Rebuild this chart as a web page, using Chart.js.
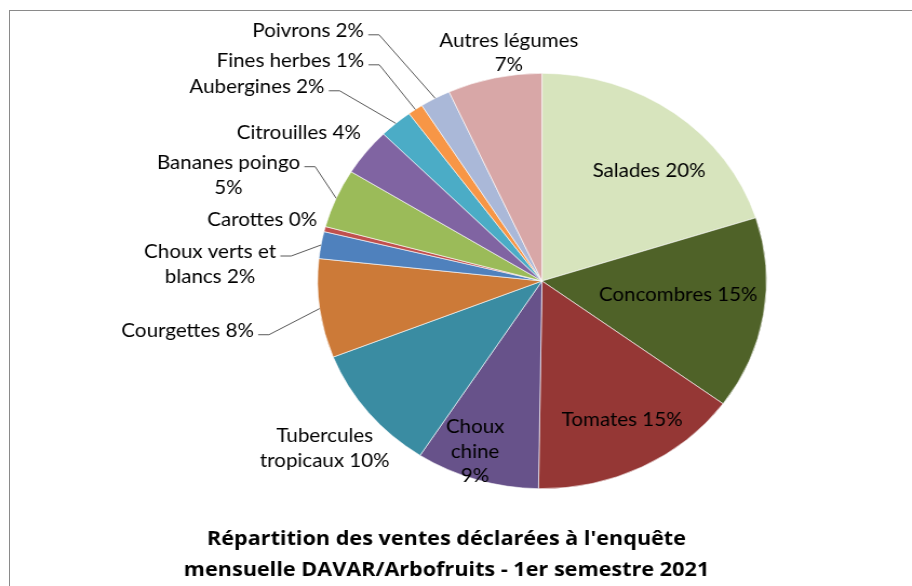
<!DOCTYPE html>
<html><head><meta charset="utf-8">
<script src="https://cdn.jsdelivr.net/npm/chart.js@4"></script>
<style>
html,body{margin:0;padding:0;background:#fff;}
#wrap{position:relative;width:912px;height:586px;overflow:hidden;}
#frame{position:absolute;left:9px;top:10px;right:-5px;bottom:-5px;border-left:1px solid #8a8a8a;border-top:1px solid #8a8a8a;}
canvas{position:absolute;left:0;top:0;}
</style></head><body>
<div id="wrap"><div id="frame"></div><canvas id="c" width="844" height="586" style="width:912px;height:586px"></canvas></div>
<script>
const categories = ['Salades','Concombres','Tomates','Choux chine','Tubercules tropicaux','Courgettes','Choux verts et blancs','Carottes','Bananes poingo','Citrouilles','Aubergines','Fines herbes','Poivrons','Autres légumes'];
const shares = [20.1, 15.0, 15.2, 8.9, 9.9, 7.7, 2.1, 0.4, 4.6, 3.7, 2.4, 1.1, 2.2, 6.8];
const sliceColors = ['#D7E4BD','#4F6228','#953735','#67528A','#3A8CA2','#CC7A38','#4F81BD','#C0504D','#9BBB59','#8064A2','#4BACC6','#F79646','#AAB8D8','#D8A7A7'];
const titleLines = ["Répartition des ventes déclarées à l'enquête", 'mensuelle DAVAR/Arbofruits - 1er semestre 2021'];

// label placement relative to pie centre, in units of the pie radius
const labelLayout = [
  {fx: 0.477, fy: -0.534},
  {fx: 0.607, fy: 0.061},
  {fx: 0.357, fy: 0.667},
  {fx: -0.298, fy: 0.817, wrap: 60},
  {fx: -0.968, fy: 0.803, wrap: 135},
  {fx: -1.579, fy: 0.237, leader: true},
  {fx: -1.479, fy: -0.083, wrap: 140, leader: true},
  {fx: -1.247, fy: -0.297},
  {fx: -1.397, fy: -0.513, wrap: 148, leader: true},
  {fx: -1.084, fy: -0.718},
  {fx: -1.270, fy: -0.9375, leader: true},
  {fx: -1.121, fy: -1.0625, leader: true},
  {fx: -1.042, fy: -1.207, leader: true},
  {fx: -0.148, fy: -1.101, wrap: 148}
];

const LABEL_FONT_SIZE = 19;
const LABEL_FONT = LABEL_FONT_SIZE + 'px Lato, "Open Sans", sans-serif';
const LINE_GAP = 24.5;

function wrapText(ctx, text, maxW) {
  const words = text.split(' ');
  const lines = [];
  let cur = '';
  for (const w of words) {
    const t = cur ? cur + ' ' + w : w;
    if (cur && ctx.measureText(t).width > maxW) { lines.push(cur); cur = w; }
    else cur = t;
  }
  if (cur) lines.push(cur);
  return lines;
}

const labelPlugin = {
  id: 'sliceLabels',
  afterLayout(chart) {
    const t = chart.titleBlock;
    if (t) { t.left = 0; t.right = chart.width - 17.6; }
  },
  afterDatasetsDraw(chart) {
    const ctx = chart.ctx;
    const meta = chart.getDatasetMeta(0);
    const data = chart.data.datasets[0].data;
    const total = data.reduce((a, b) => a + b, 0);
    ctx.save();
    ctx.font = LABEL_FONT;
    ctx.fillStyle = '#000';
    ctx.textAlign = 'center';
    ctx.textBaseline = 'alphabetic';
    meta.data.forEach((arc, i) => {
      const p = arc.getProps(['x', 'y', 'startAngle', 'endAngle', 'outerRadius'], true);
      const R = p.outerRadius;
      const lay = labelLayout[i];
      const text = chart.data.labels[i] + ' ' + Math.round(data[i] / total * 100) + '%';
      const lines = wrapText(ctx, text, lay.wrap || Infinity);
      const bx = p.x + lay.fx * R;
      const by = p.y + lay.fy * R;
      const n = lines.length;
      lines.forEach((ln, k) => {
        const cy = by + (k - (n - 1) / 2) * LINE_GAP;
        ctx.fillText(ln, bx, cy + LABEL_FONT_SIZE * 0.36);
      });
      if (lay.leader) {
        const w0 = ctx.measureText(lines[0]).width;
        const ly = by - (n - 1) / 2 * LINE_GAP + 4.5;
        const x0 = bx + w0 / 2 + 4;
        const mid = (p.startAngle + p.endAngle) / 2;
        const ex = p.x + Math.cos(mid) * R;
        const ey = p.y + Math.sin(mid) * R;
        ctx.beginPath();
        ctx.strokeStyle = '#595959';
        ctx.lineWidth = 1;
        ctx.moveTo(x0, ly);
        ctx.lineTo(x0 + 10, ly);
        ctx.lineTo(ex, ey);
        ctx.stroke();
      }
    });
    ctx.restore();
  }
};

new Chart(document.getElementById('c'), {
  type: 'pie',
  data: {
    labels: categories,
    datasets: [{
      data: shares,
      backgroundColor: sliceColors,
      borderColor: '#ffffff',
      borderWidth: 0.6
    }]
  },
  options: {
    responsive: false,
    animation: false,
    events: [],
    layout: {padding: {left: 293.6, right: 134.4, top: 38, bottom: 0}},
    plugins: {
      legend: {display: false},
      tooltip: {enabled: false},
      title: {
        display: true,
        position: 'bottom',
        text: titleLines,
        color: '#000',
        font: {family: '"Open Sans", Lato, sans-serif', size: 20, weight: 'bold', lineHeight: '31px'},
        padding: {top: 0, bottom: 0}
      }
    }
  },
  plugins: [labelPlugin]
});
</script>
</body></html>
